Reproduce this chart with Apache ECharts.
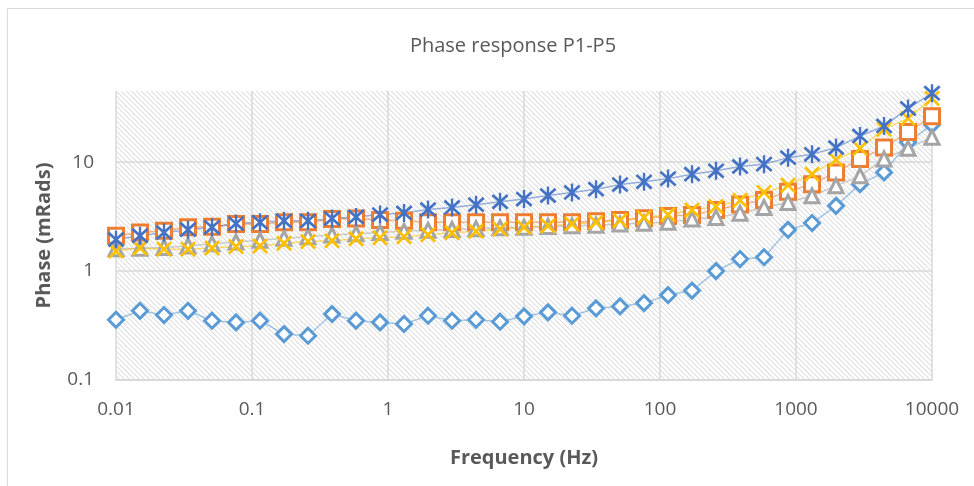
<!DOCTYPE html>
<html><head><meta charset="utf-8">
<script src="https://cdn.jsdelivr.net/npm/echarts@6/dist/echarts.min.js"></script>
<style>html,body{margin:0;padding:0;background:#fff}#c{width:974px;height:486px}</style>
</head><body><div id="c"></div>
<script>
const titleText = 'Phase response P1-P5';
const xName = 'Frequency (Hz)';
const yName = 'Phase (mRads)';
const freq = [0.01, 0.01501, 0.02254, 0.03385, 0.05082, 0.0763, 0.1146, 0.172, 0.2582, 0.3877, 0.5821, 0.874, 1.312, 1.97, 2.958, 4.441, 6.668, 10, 15.01, 22.54, 33.85, 50.82, 76.3, 114.6, 172, 258.2, 387.7, 582.1, 874, 1312, 1970, 2958, 4441, 6668, 10000];
const p1 = [0.357, 0.432, 0.395, 0.432, 0.350, 0.338, 0.350, 0.264, 0.255, 0.403, 0.350, 0.338, 0.327, 0.389, 0.350, 0.357, 0.343, 0.384, 0.418, 0.389, 0.455, 0.474, 0.508, 0.602, 0.662, 1.0, 1.29, 1.34, 2.39, 2.76, 3.97, 6.28, 8.05, 15.2, 22.1];
const p2 = [2.11, 2.26, 2.34, 2.52, 2.55, 2.70, 2.70, 2.80, 2.80, 3.00, 3.04, 2.95, 2.89, 2.80, 2.80, 2.80, 2.81, 2.80, 2.80, 2.80, 2.87, 2.95, 3.06, 3.20, 3.28, 3.63, 4.09, 4.50, 5.36, 6.28, 8.05, 10.7, 13.6, 18.9, 26.4];
const p3 = [1.60, 1.62, 1.65, 1.70, 1.78, 1.85, 1.92, 2.00, 2.07, 2.14, 2.20, 2.26, 2.32, 2.37, 2.41, 2.45, 2.50, 2.53, 2.57, 2.60, 2.64, 2.70, 2.75, 2.80, 3.00, 3.11, 3.40, 3.84, 4.27, 4.91, 6.06, 7.49, 10.7, 13.4, 16.9];
const p4 = [1.53, 1.63, 1.59, 1.59, 1.63, 1.68, 1.70, 1.80, 1.87, 1.90, 1.98, 2.02, 2.07, 2.16, 2.25, 2.32, 2.43, 2.52, 2.60, 2.70, 2.80, 2.92, 3.11, 3.29, 3.64, 3.91, 4.46, 5.27, 6.15, 7.76, 10.5, 13.4, 20.1, 25.2, 38.5];
const p5 = [1.95, 2.11, 2.26, 2.40, 2.52, 2.73, 2.80, 2.89, 2.89, 3.04, 3.14, 3.30, 3.42, 3.67, 3.84, 4.07, 4.32, 4.58, 4.93, 5.27, 5.65, 6.22, 6.60, 7.06, 7.76, 8.32, 9.13, 9.59, 11.0, 11.8, 13.6, 17.4, 21.5, 31.1, 43];
const xTicks = ['0.01', '0.1', '1', '10', '100', '1000', '10000'];
const yTicks = ['0.1', '1', '10'];

// hatch pattern
const tile = document.createElement('canvas');
tile.width = 5; tile.height = 5;
const tctx = tile.getContext('2d');
const img = tctx.createImageData(5, 5);
for (let y = 0; y < 5; y++) for (let x = 0; x < 5; x++) {
  const d = ((x - y) % 5 + 5) % 5;
  let v = 255;
  if (d === 0) v = 222; else if (d === 1) v = 242;
  const i = (y * 5 + x) * 4;
  img.data[i] = v; img.data[i+1] = v; img.data[i+2] = v; img.data[i+3] = 255;
}
tctx.putImageData(img, 0, 0);

const FONT = 'Open Sans';
const xPath = 'path://M0 12 L12 0 L50 38 L88 0 L100 12 L62 50 L100 88 L88 100 L50 62 L12 100 L0 88 L38 50 Z';
const starPath = 'path://M0 18 L10 6 L50 40 L90 6 L100 18 L62 50 L100 82 L90 94 L50 60 L10 94 L0 82 L38 50 Z M43 0 L57 0 L57 100 L43 100 Z';

function fmt(v) { return String(parseFloat(Number(v).toPrecision(6))); }
function pairs(arr) { return freq.map((f, i) => [f, arr[i]]); }

function mkSeries(name, data, color, lineColor, symbol, size, filled) {
  return {
    name, type: 'line', data: pairs(data), clip: false,
    symbol, symbolSize: size, showAllSymbol: true,
    lineStyle: { color: lineColor, width: 1.5 },
    itemStyle: filled ? { color: color, borderWidth: 0 } : { color: '#fff', borderColor: color, borderWidth: 3 },
    emphasis: { disabled: true }
  };
}

const chart = echarts.init(document.getElementById('c'), null, { renderer: 'canvas' });
chart.setOption({
  animation: false,
  backgroundColor: '#fff',
  title: {
    text: titleText, left: 508, top: 31, textAlign: 'center',
    textStyle: { fontFamily: FONT, fontSize: 20, fontWeight: 'normal', color: '#595959' }
  },
  graphic: [{ type: 'rect', shape: { x: 7.5, y: 8.5, width: 1200, height: 1200 }, style: { fill: 'none', stroke: '#d9d9d9', lineWidth: 1 }, silent: true }],
  grid: {
    left: 116, right: 42, top: 91, bottom: 106, show: true, borderWidth: 0,
    backgroundColor: { image: tile, repeat: 'repeat' }
  },
  xAxis: {
    type: 'log', logBase: 10, min: 0.01, max: 10000,
    name: xName, nameLocation: 'middle', nameGap: 68,
    nameTextStyle: { fontFamily: FONT, fontSize: 20, fontWeight: 'bold', color: '#595959' },
    axisLine: { show: true, lineStyle: { color: '#d9d9d9', width: 2 } },
    axisTick: { show: false },
    minorTick: { show: false },
    splitLine: { show: true, lineStyle: { color: '#d9d9d9', width: 1.5 } },
    axisLabel: {
      margin: 20, fontFamily: FONT, fontSize: 19, color: '#595959',
      formatter: v => { const s = fmt(v); return xTicks.includes(s) ? s : ''; }
    }
  },
  yAxis: {
    type: 'log', logBase: 10, min: 0.1, max: 45,
    name: yName, nameLocation: 'middle', nameGap: 62, nameRotate: 90,
    nameTextStyle: { fontFamily: FONT, fontSize: 20, fontWeight: 'bold', color: '#595959' },
    axisLine: { show: false },
    axisTick: { show: false },
    splitLine: { show: true, lineStyle: { color: ['#d9d9d9', '#d9d9d9', '#d9d9d9', 'rgba(0,0,0,0)'], width: 1.5 } },
    axisLabel: {
      margin: 22, fontFamily: FONT, fontSize: 19, color: '#595959', showMaxLabel: false,
      formatter: v => { const s = fmt(v); return yTicks.includes(s) ? s : ''; }
    }
  },
  series: [
    mkSeries('P1', p1, '#5B9BD5', 'rgba(91,155,213,0.55)', 'diamond', 15, false),
    mkSeries('P2', p2, '#ED7D31', 'rgba(237,125,49,0.55)', 'rect', 15, false),
    mkSeries('P3', p3, '#A5A5A5', 'rgba(165,165,165,0.55)', 'triangle', 14, false),
    mkSeries('P4', p4, '#FFC000', 'rgba(255,192,0,0.55)', xPath, 16, true),
    mkSeries('P5', p5, '#4472C4', 'rgba(68,114,196,0.55)', starPath, [17, 18], true)
  ]
});
</script></body></html>
